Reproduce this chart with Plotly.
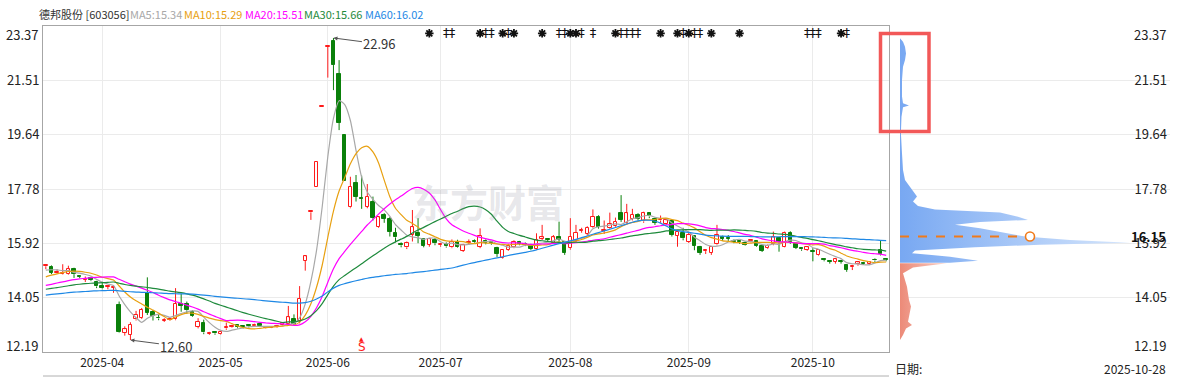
import plotly.graph_objects as go
import pandas as pd
import numpy as np

# ---------------- data ----------------
holidays = ["2025-04-04", "2025-05-01", "2025-05-02", "2025-05-05", "2025-06-02",
            "2025-10-01", "2025-10-02", "2025-10-03", "2025-10-06", "2025-10-07", "2025-10-08"]
dates = [d.strftime("%Y-%m-%d") for d in pd.bdate_range("2025-03-18", "2025-10-28")
         if d.strftime("%Y-%m-%d") not in holidays]

opens = [15.13, 15.09, 14.90, 14.88, 14.86, 15.03, 14.80, 14.66, 14.73, 14.58,
         14.45, 14.43, 14.40, 13.80, 12.84, 12.78, 13.31, 13.35, 14.22, 13.55,
         13.37, 13.25, 13.29, 13.31, 13.82, 13.84, 13.55, 13.05, 13.20, 12.82,
         12.85, 12.81, 13.00, 13.04, 13.12, 13.06, 13.09, 13.08, 13.14, 13.02,
         13.03, 13.04, 13.12, 13.15, 13.31, 13.25, 15.32, 16.98, 17.84, 20.59,
         22.65, 22.85, 21.72, 19.63, 17.15, 18.00, 17.48, 17.17, 17.32, 16.49,
         16.88, 16.75, 16.28, 15.88, 15.78, 16.20, 16.28, 16.05, 15.86, 16.04,
         15.85, 15.90, 15.78, 15.97, 15.67, 15.93, 15.98, 15.80, 16.00, 15.95,
         15.75, 15.40, 15.69, 15.78, 15.95, 15.90, 15.86, 15.72, 16.08, 16.06,
         15.94, 16.15, 15.95, 15.75, 16.00, 16.35, 16.24, 16.49, 16.81, 16.35,
         16.43, 16.50, 16.95, 16.60, 16.75, 16.89, 16.67, 16.95, 16.74, 16.70,
         16.58, 16.68, 16.17, 16.28, 15.97, 16.17, 15.80, 15.65, 15.60, 15.88,
         16.12, 16.10, 16.00, 15.99, 15.93, 15.98, 16.00, 15.83, 15.75, 15.89,
         16.09, 15.80, 16.28, 15.90, 15.73, 15.69, 15.65, 15.50, 15.37, 15.31,
         15.29, 15.31, 15.17, 15.10, 15.20, 15.25, 15.22, 15.36, 15.69, 15.38]
highs = [15.16, 15.16, 15.02, 15.20, 15.15, 15.08, 14.82, 14.78, 14.77, 14.63,
         14.60, 14.47, 14.47, 13.92, 13.07, 13.21, 13.60, 13.70, 14.75, 13.63,
         13.48, 13.35, 13.36, 14.38, 14.19, 13.92, 13.62, 13.35, 13.30, 12.88,
         12.90, 12.92, 13.20, 13.12, 13.14, 13.08, 13.13, 13.16, 13.17, 13.06,
         13.07, 13.09, 13.22, 13.77, 13.48, 14.45, 15.50, 17.02, 18.72, 20.59,
         22.65, 22.96, 22.20, 19.63, 18.20, 18.26, 18.24, 17.95, 17.52, 16.85,
         16.95, 16.82, 16.45, 15.95, 15.98, 17.06, 16.78, 16.10, 16.10, 16.10,
         15.93, 15.95, 16.05, 16.04, 15.90, 16.05, 16.05, 16.43, 16.05, 15.97,
         15.80, 15.72, 15.90, 16.02, 16.00, 15.95, 15.90, 16.26, 16.55, 16.10,
         16.20, 16.66, 16.00, 16.78, 16.55, 16.45, 16.50, 17.08, 16.88, 16.70,
         16.97, 16.80, 17.57, 17.27, 17.10, 16.95, 17.00, 16.98, 16.80, 16.87,
         16.75, 16.72, 16.35, 16.45, 16.28, 16.20, 15.83, 15.72, 15.82, 16.55,
         16.18, 16.20, 16.05, 16.02, 15.98, 16.06, 16.02, 15.85, 15.88, 16.32,
         16.12, 16.32, 16.33, 15.95, 15.76, 15.82, 15.75, 15.72, 15.40, 15.33,
         15.40, 15.35, 15.20, 15.18, 15.30, 15.28, 15.30, 15.40, 16.03, 15.40]
lows = [15.03, 14.86, 14.88, 14.85, 14.84, 14.73, 14.72, 14.59, 14.62, 14.38,
        14.34, 14.34, 14.22, 12.84, 12.75, 12.60, 13.27, 13.32, 13.46, 13.27,
        13.28, 13.22, 13.27, 13.28, 13.57, 13.50, 13.40, 13.00, 12.80, 12.78,
        12.78, 12.79, 12.95, 13.02, 13.00, 13.00, 13.03, 13.05, 13.05, 13.00,
        13.01, 13.02, 13.10, 13.12, 13.12, 13.17, 14.98, 16.72, 17.84, 20.59,
        21.60, 21.17, 19.80, 18.05, 17.12, 17.35, 17.10, 17.12, 16.70, 16.45,
        16.62, 16.15, 15.95, 15.78, 15.72, 15.98, 15.92, 15.78, 15.80, 15.85,
        15.80, 15.77, 15.75, 15.77, 15.62, 15.88, 15.90, 15.75, 15.88, 15.87,
        15.45, 15.38, 15.66, 15.75, 15.85, 15.82, 15.68, 15.70, 16.03, 15.98,
        15.90, 15.98, 15.52, 15.70, 15.95, 16.28, 16.20, 16.45, 16.42, 16.24,
        16.40, 16.45, 16.65, 16.55, 16.70, 16.70, 16.62, 16.78, 16.55, 16.62,
        16.55, 16.15, 15.80, 16.02, 15.93, 15.68, 15.52, 15.55, 15.52, 15.85,
        16.00, 16.00, 15.92, 15.90, 15.84, 15.95, 15.80, 15.62, 15.72, 15.85,
        15.63, 15.78, 15.90, 15.72, 15.66, 15.66, 15.30, 15.48, 15.30, 15.22,
        15.22, 15.22, 14.94, 15.00, 15.15, 15.18, 15.18, 15.28, 15.50, 15.30]
closes = [15.15, 14.90, 14.92, 14.90, 15.03, 14.86, 14.76, 14.69, 14.65, 14.44,
          14.37, 14.46, 14.42, 12.86, 12.97, 13.12, 13.46, 13.63, 13.54, 13.43,
          13.34, 13.28, 13.31, 13.84, 13.78, 13.62, 13.44, 13.23, 12.86, 12.84,
          12.83, 12.89, 13.05, 13.08, 13.04, 13.04, 13.07, 13.11, 13.08, 13.04,
          13.05, 13.07, 13.17, 13.38, 13.16, 14.02, 15.47, 17.02, 18.72, 20.59,
          22.65, 22.03, 20.05, 18.05, 17.86, 17.52, 17.45, 17.52, 16.78, 16.81,
          16.76, 16.32, 16.12, 15.85, 15.92, 16.47, 16.18, 15.83, 16.06, 15.92,
          15.87, 15.81, 15.97, 15.80, 15.86, 15.97, 15.95, 16.17, 15.93, 15.92,
          15.55, 15.69, 15.83, 15.97, 15.90, 15.87, 15.72, 16.03, 16.12, 16.04,
          16.12, 16.04, 15.60, 16.15, 16.28, 16.38, 16.45, 16.83, 16.49, 16.38,
          16.58, 16.65, 16.72, 16.95, 16.90, 16.75, 16.95, 16.84, 16.62, 16.72,
          16.70, 16.20, 16.32, 16.09, 16.20, 15.83, 15.60, 15.67, 15.80, 16.20,
          16.08, 16.07, 15.97, 15.96, 15.87, 16.04, 15.84, 15.66, 15.83, 16.12,
          15.95, 16.28, 15.95, 15.77, 15.71, 15.78, 15.62, 15.69, 15.34, 15.28,
          15.37, 15.28, 15.00, 15.15, 15.26, 15.22, 15.27, 15.33, 15.54, 15.34]

# closes before 2025-03-18 (estimated, only feed the moving averages)
prior_closes = [13.60, 13.70, 13.80, 13.75, 13.90, 14.00, 13.95, 13.85, 13.90, 14.05,
                14.10, 14.00, 13.90, 13.95, 14.05, 14.15, 14.10, 14.00, 13.90, 13.85,
                13.95, 14.00, 14.05, 13.95, 13.90, 13.85, 13.95, 14.00, 14.10, 14.05,
                14.00, 14.10, 14.05, 13.95, 14.00, 14.10, 14.15, 14.20, 14.10, 14.15,
                14.10, 14.05, 14.15, 14.20, 14.10, 14.25, 14.30, 14.20, 14.25, 14.20,
                14.30, 14.45, 14.50, 14.65, 14.75, 14.85, 14.95, 15.00, 15.05]

ma_periods = [5, 10, 20, 30, 60]
ma_colors = ["#a8a8a8", "#e8a010", "#ff00ff", "#1e8a3c", "#1e88e5"]
legend_values = ["15.34", "15.29", "15.51", "15.66", "16.02"]

star_days = [68, 77, 81, 83, 88, 93, 94, 101, 109, 112, 114, 118, 123, 141]
dagger_days = [71, 72, 78, 79, 82, 91, 92, 95, 97, 102, 103, 104, 105, 113, 115, 116, 135, 136, 137, 142]
signal_day = 56

# chip distribution (price, relative width)
chip_prices = [22.95, 22.83, 22.66, 22.43, 22.20, 21.97, 21.52, 20.95, 20.72, 20.64,
               20.58, 20.26, 19.80, 19.63, 19.00, 18.43, 18.09, 17.86, 17.69, 17.52,
               17.35, 17.20, 17.08, 16.97, 16.83, 16.72, 16.65, 16.55, 16.43, 16.26,
               16.15, 16.03, 15.94, 15.87, 15.78, 15.67, 15.58, 15.46, 15.32, 15.25,
               15.23, 15.17, 15.09, 14.89, 14.66, 14.43, 14.20, 13.97, 13.75, 13.57,
               13.40, 13.23, 13.12, 13.00, 12.77, 12.60]
chip_widths = [0, 3, 5, 6, 5, 3, 2, 2, 3, 9,
               3, 1.5, 1, 1, 2, 3, 5, 10, 14, 17,
               13, 18, 35, 100, 118, 128, 80, 55, 80, 105,
               125, 170, 230, 140, 75, 15, 12, 50, 78, 50,
               47, 30, 13, 3, 5, 7, 8, 9, 11, 10,
               9, 8, 12, 6, 3, 0]
chip_split = 15.24
avg_cost = 16.15
avg_cost_width = 130

y_ticks = [12.19, 14.05, 15.92, 17.78, 19.64, 21.51, 23.37]

# ---------------- styling ----------------
RED = "#ff1a1a"
GREEN = "#0a800a"
GRID = "#ebebeb"
FONT = "Noto Sans CJK SC"
W, H = 1183, 378
L, R, T, B = 43, 13, 26, 26
PW, PH = W - L - R, H - T - B


def px(xp):
    return (xp - L) / PW


def py(yp):
    return (H - B - yp) / PH


fig = go.Figure()


def wick_trace(mask, color):
    xs, ys = [], []
    for d, o, h, l, c, m in zip(dates, opens, highs, lows, closes, mask):
        if not m:
            continue
        top, bot = max(o, c), min(o, c)
        if h > top:
            xs += [d, d, None]
            ys += [top, h, None]
        if l < bot:
            xs += [d, d, None]
            ys += [l, bot, None]
    return go.Scatter(x=xs, y=ys, mode="lines", line=dict(color=color, width=1),
                      hoverinfo="skip", showlegend=False)


up = [c >= o for o, c in zip(opens, closes)]
down = [not u for u in up]
fig.add_trace(wick_trace(up, RED))
fig.add_trace(wick_trace(down, GREEN))

min_body = 0.03
for mask, fill, line in [(up, "white", RED), (down, GREEN, GREEN)]:
    xs = [d for d, m in zip(dates, mask) if m]
    base = [min(o, c) for o, c, m in zip(opens, closes, mask) if m]
    hgt = [max(abs(c - o), min_body) for o, c, m in zip(opens, closes, mask) if m]
    fig.add_trace(go.Bar(x=xs, y=hgt, base=base, width=0.62,
                         marker=dict(color=fill, line=dict(color=line, width=1)),
                         hoverinfo="skip", showlegend=False))

# moving averages
all_closes = pd.Series(prior_closes + closes)
n_prior = len(prior_closes)
for p, col in zip(ma_periods, ma_colors):
    ma = all_closes.rolling(p).mean().iloc[n_prior:].round(3).tolist()
    fig.add_trace(go.Scatter(x=dates, y=ma, mode="lines",
                             line=dict(color=col, width=1.2, shape="spline", smoothing=0.6),
                             hoverinfo="skip", showlegend=False))

# top event markers
mark_y = 23.12
fig.add_trace(go.Scatter(x=[dates[i] for i in star_days], y=[mark_y] * len(star_days),
                         mode="markers", marker=dict(symbol="asterisk", size=7,
                                                     line=dict(color="#111", width=1.8)),
                         hoverinfo="skip", showlegend=False))
fig.add_trace(go.Scatter(x=[dates[i] for i in dagger_days], y=[mark_y] * len(dagger_days),
                         mode="text", text=["‡"] * len(dagger_days),
                         textfont=dict(size=13, color="#111", family="DejaVu Sans"),
                         hoverinfo="skip", showlegend=False))

# chip distribution
up_p = [p for p in chip_prices if p >= chip_split]
up_w = [w for p, w in zip(chip_prices, chip_widths) if p >= chip_split]
lo_p = [p for p in chip_prices if p < chip_split]
lo_w = [w for p, w in zip(chip_prices, chip_widths) if p < chip_split]
fig.add_trace(go.Scatter(x=up_w, y=up_p, xaxis="x2", yaxis="y2", mode="lines",
                         line=dict(width=0, color="#7aaaf2"), fill="tozerox",
                         fillgradient=dict(type="horizontal",
                                           colorscale=[[0, "#78a8f2"], [1, "#d6e6fc"]]),
                         hoverinfo="skip", showlegend=False))
fig.add_trace(go.Scatter(x=lo_w, y=lo_p, xaxis="x2", yaxis="y2", mode="lines",
                         line=dict(width=0, color="#ee8e7c"), fill="tozerox",
                         fillgradient=dict(type="horizontal",
                                           colorscale=[[0, "#ec8a78"], [1, "#f8cfc6"]]),
                         hoverinfo="skip", showlegend=False))
fig.add_trace(go.Scatter(x=[0, avg_cost_width], y=[avg_cost, avg_cost], xaxis="x2", yaxis="y2",
                         mode="lines", line=dict(color="#f07a1a", width=2, dash="dash"),
                         hoverinfo="skip", showlegend=False))
fig.add_trace(go.Scatter(x=[avg_cost_width], y=[avg_cost], xaxis="x2", yaxis="y2",
                         mode="markers", marker=dict(symbol="circle", size=9, color="white",
                                                     line=dict(color="#f07a1a", width=1.6)),
                         hoverinfo="skip", showlegend=False))

# ---------------- layout ----------------
month_ticks, month_text = [], []
prev = None
for d in dates:
    m = d[:7]
    if prev is not None and m != prev:
        month_ticks.append(d)
        month_text.append(m)
    prev = m

inner_ticks = y_ticks[1:-1]
tick_text = [f"{v:.2f}" for v in inner_ticks]
split_x = px(889)

fig.update_layout(
    width=W, height=H, margin=dict(l=L, r=R, t=T, b=B, autoexpand=False),
    paper_bgcolor="white", plot_bgcolor="white",
    barmode="overlay", bargap=0, hovermode=False, showlegend=False,
    font=dict(family=FONT, size=13, color="#333"),
    xaxis=dict(type="category", categoryorder="array", categoryarray=dates,
               domain=[0, split_x], range=[-0.5, len(dates) - 0.5],
               tickvals=month_ticks, ticktext=month_text, tickangle=0, automargin=False,
               showgrid=True, gridcolor=GRID,
               gridwidth=1, showline=True, mirror=True, linecolor="#a6a6a6", linewidth=1,
               ticks="", tickfont=dict(size=12, color="#222"), zeroline=False),
    yaxis=dict(range=[y_ticks[0], y_ticks[-1]], tickvals=inner_ticks, ticktext=tick_text,
               automargin=False,
               showgrid=True, gridcolor=GRID, showline=True, mirror=True, linecolor="#a6a6a6",
               linewidth=1, ticks="", tickfont=dict(size=13, color="#222"), zeroline=False),
    xaxis2=dict(domain=[px(900), 1], range=[0, 270], anchor="y2", visible=False),
    yaxis2=dict(anchor="x2", side="right", range=[y_ticks[0], y_ticks[-1]], tickvals=inner_ticks,
                ticktext=tick_text, ticklabelposition="inside", showgrid=True, gridcolor=GRID,
                automargin=False,
                showline=False, ticks="", tickfont=dict(size=13, color="#222"), zeroline=False),
)

ann = []
# header legend
ann.append(dict(x=px(37), y=py(14), xref="paper", yref="paper", text="德邦股份 [603056]",
                showarrow=False, xanchor="left", yanchor="middle", font=dict(size=11, color="#333")))
for p, col, val, xp in zip(ma_periods, ma_colors, legend_values, [128, 182, 243, 302, 363]):
    ann.append(dict(x=px(xp), y=py(14), xref="paper", yref="paper", text=f"MA{p}:{val}",
                    showarrow=False, xanchor="left", yanchor="middle",
                    font=dict(size=11, color=col)))
# edge tick labels
for v, yp in [(y_ticks[-1], 35), (y_ticks[0], 345)]:
    ann.append(dict(x=px(40), y=py(yp), xref="paper", yref="paper", text=f"{v:.2f}",
                    showarrow=False, xanchor="right", yanchor="middle",
                    font=dict(size=13, color="#222")))
    ann.append(dict(x=px(1168), y=py(yp), xref="paper", yref="paper", text=f"{v:.2f}",
                    showarrow=False, xanchor="right", yanchor="middle",
                    font=dict(size=13, color="#222")))
# average cost label
ann.append(dict(x=px(1168), y=avg_cost, xref="paper", yref="y", text=f"<b>{avg_cost:.2f}</b>",
                showarrow=False, xanchor="right", yanchor="middle", font=dict(size=13, color="#111")))
# high / low callouts
hi_i = int(np.argmax(highs))
lo_i = int(np.argmin(lows))
ann.append(dict(x=dates[hi_i], y=highs[hi_i], xref="x", yref="y", text=f"{highs[hi_i]:.2f}",
                showarrow=True, ax=46, ay=6, arrowhead=2, arrowsize=0.8, arrowwidth=1,
                arrowcolor="#555", font=dict(size=13, color="#333")))
ann.append(dict(x=dates[lo_i], y=lows[lo_i], xref="x", yref="y", text=f"{lows[lo_i]:.2f}",
                showarrow=True, ax=46, ay=6, arrowhead=2, arrowsize=0.8, arrowwidth=1,
                arrowcolor="#555", font=dict(size=13, color="#333")))
# signal marker
ann.append(dict(x=dates[signal_day], y=py(338.5), xref="x", yref="paper", text="▲",
                showarrow=False, xanchor="center", yanchor="middle",
                font=dict(size=6, color=RED, family="DejaVu Sans")))
ann.append(dict(x=dates[signal_day], y=py(346.5), xref="x", yref="paper", text="S",
                showarrow=False, xanchor="center", yanchor="middle",
                font=dict(size=12, color=RED, family="DejaVu Sans")))
# watermark
ann.append(dict(x=px(488), y=py(200), xref="paper", yref="paper", text="<b>东方财富</b>",
                showarrow=False, xanchor="center", yanchor="middle",
                font=dict(size=38, color="rgba(150,150,165,0.24)")))
# footer
ann.append(dict(x=px(893), y=py(368), xref="paper", yref="paper", text="日期:",
                showarrow=False, xanchor="left", yanchor="middle", font=dict(size=12, color="#222")))
ann.append(dict(x=px(1168), y=py(368), xref="paper", yref="paper", text=dates[-1],
                showarrow=False, xanchor="right", yanchor="middle", font=dict(size=12, color="#222")))
fig.update_layout(annotations=ann)

fig.update_layout(shapes=[
    dict(type="rect", xref="paper", yref="paper", x0=px(880.5), x1=px(929), y0=py(131.5), y1=py(33.5),
         line=dict(color="#f25858", width=3.5)),
    dict(type="line", xref="paper", yref="paper", x0=0, x1=split_x, y0=py(376), y1=py(376),
         line=dict(color="#b0b0b0", width=1)),
])

fig.write_html("out.html", config={"displayModeBar": False},
               post_script="document.body.style.margin='0px';")
